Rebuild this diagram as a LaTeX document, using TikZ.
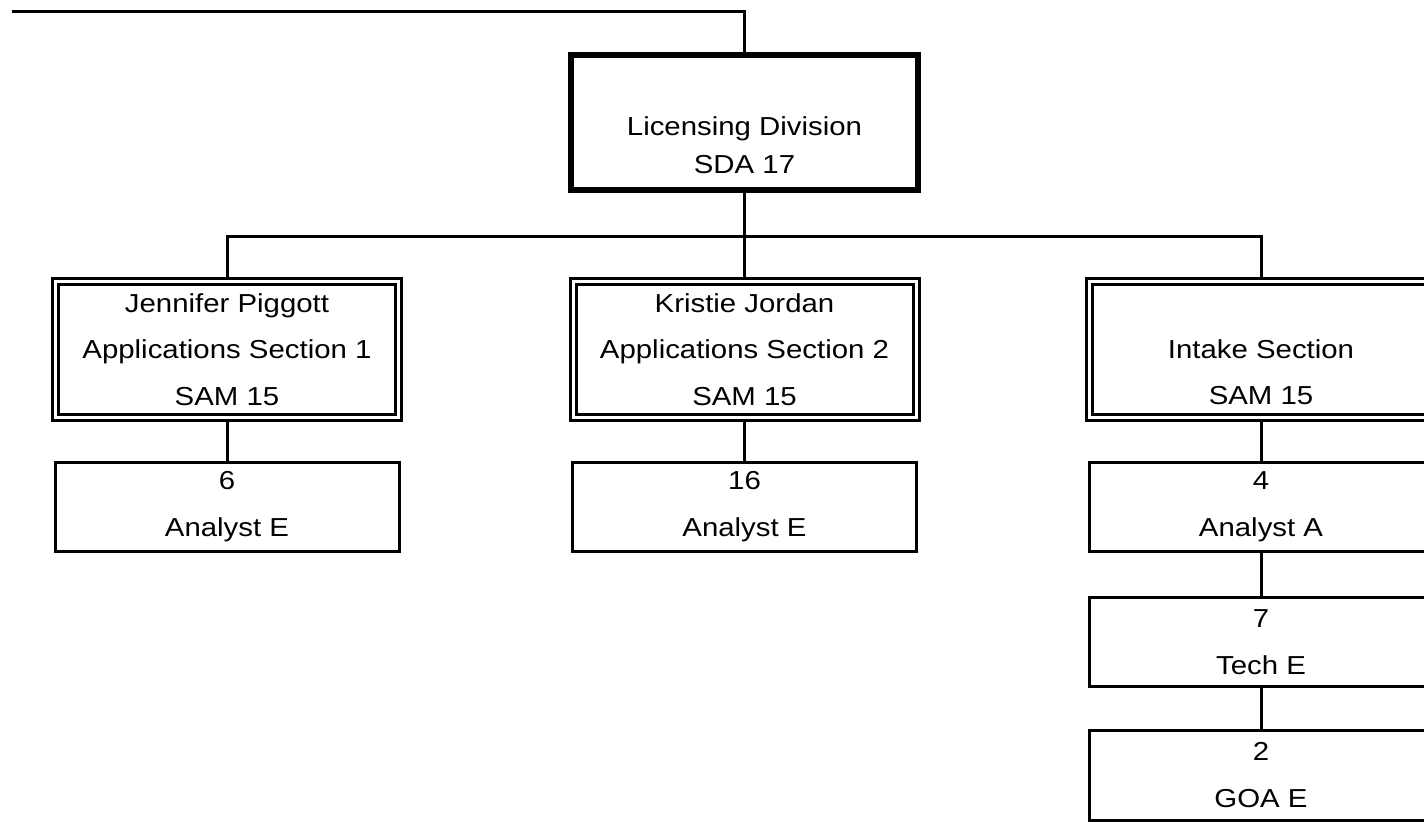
\documentclass[tikz,border=0pt]{standalone}
\usepackage{fontspec}
\setmainfont{Liberation Sans}[FakeStretch=1.13]
\usepackage{tikz}

\begin{document}
\begin{tikzpicture}[x=0.5pt,y=-0.5pt,line width=1.5pt,
	divbox/.style={draw, line width=3pt, minimum width=173.5pt, minimum height=67.5pt, align=center, font=\fontsize{13}{19}\selectfont},
	secbox/.style={draw, double, double distance=1.5pt, outer sep=2.25pt, minimum width=171.5pt, minimum height=68pt, align=center, font=\fontsize{13}{23.25}\selectfont},
	staffbox/.style={draw, minimum width=172pt, minimum height=44.5pt, align=center, font=\fontsize{13}{23.5}\selectfont}]
	\useasboundingbox (0,0) rectangle (1424,822);
	\clip (0,0) rectangle (1424,822);
	\node [divbox] (div) at (744.5,122.5) {\strut\\Licensing Division\\SDA 17};
	\node [secbox] (sec1) at (227,349.5) {Jennifer Piggott\\Applications Section 1\\SAM 15};
	\node [secbox] (sec2) at (744.5,349.5) {Kristie Jordan\\Applications Section 2\\SAM 15};
	\node [secbox] (sec3) at (1261,349.5) {\vphantom{J}\\Intake Section\\SAM 15};
	\node [staffbox] (an1) at (227,507) {6\\Analyst E};
	\node [staffbox] (an2) at (744.5,507) {16\\Analyst E};
	\node [staffbox] (an3) at (1261,507) {4\\Analyst A};
	\node [staffbox] (tech) at (1261,642.5) {7\\Tech E};
	\node [staffbox] (goa) at (1261,775.5) {2\\GOA E};
	\coordinate (start) at (12,11.5);
	\coordinate (bus) at (744.5,236.5);
	\draw (start) -| (div.north);
	\draw (div.south) -- (bus) -- (sec2.north);
	\draw (sec1.north) |- (bus) -| (sec3.north);
	\draw (sec1.south) -- (an1.north);
	\draw (sec2.south) -- (an2.north);
	\draw (sec3.south) -- (an3.north);
	\draw (an3.south) -- (tech.north);
	\draw (tech.south) -- (goa.north);
\end{tikzpicture}
\end{document}
